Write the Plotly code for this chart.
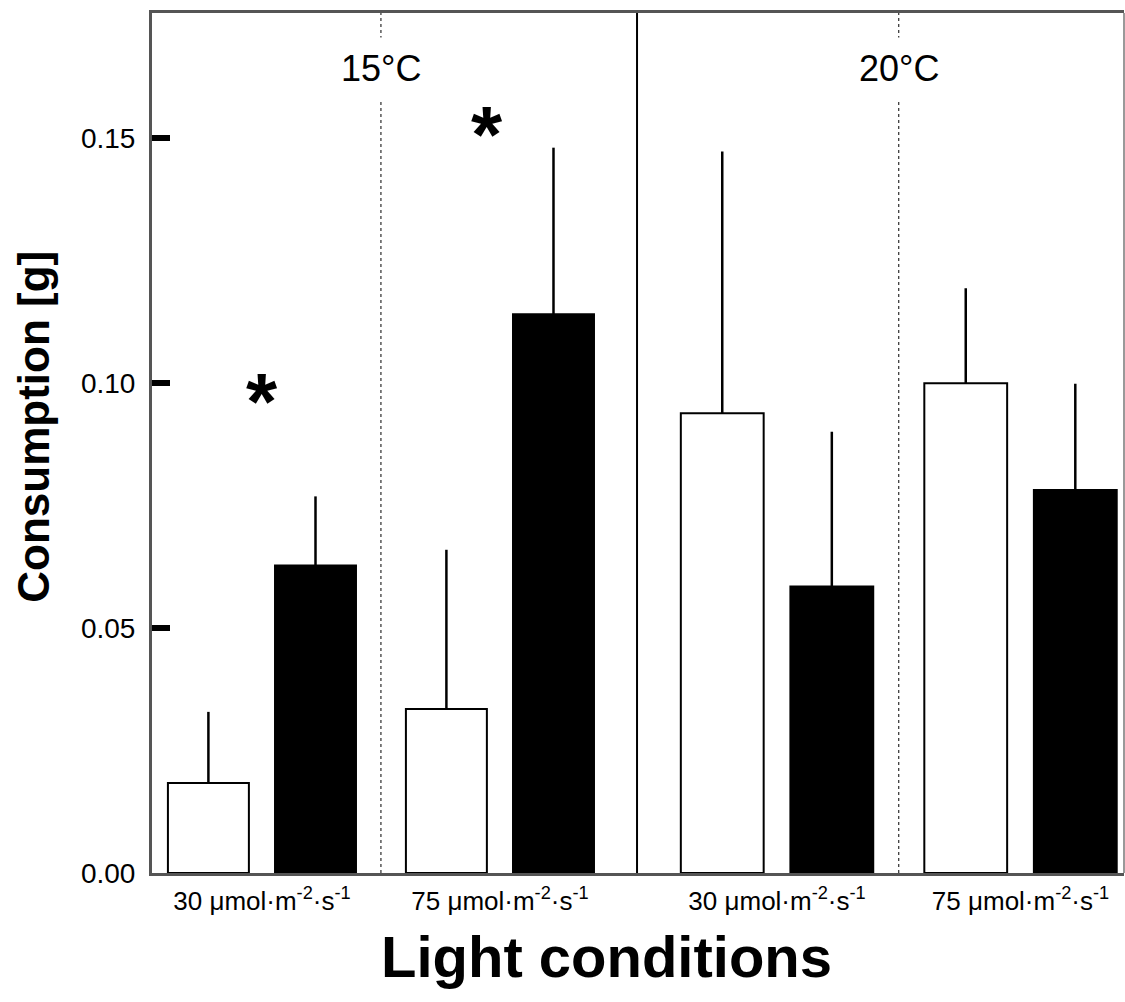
import plotly.graph_objects as go
from plotly.subplots import make_subplots

# ---- data ----
light_levels = ["30 μmol·m<sup>-2</sup>·s<sup>-1</sup>", "75 μmol·m<sup>-2</sup>·s<sup>-1</sup>"]
temperatures = ["15°C", "20°C"]

open_15 = [0.0184, 0.0335]
open_15_err = [0.0145, 0.0325]
filled_15 = [0.0628, 0.1141]
filled_15_err = [0.0141, 0.0340]

open_20 = [0.0939, 0.1000]
open_20_err = [0.0534, 0.0194]
filled_20 = [0.0585, 0.0782]
filled_20_err = [0.0316, 0.0217]

y_ticks = [0.00, 0.05, 0.10, 0.15]
# significance markers: (panel, category, y)
stars = [(1, 0, 0.0962), (1, 1, 0.1507)]

FONT = "Arial, 'Liberation Sans', sans-serif"

fig = make_subplots(rows=1, cols=2, shared_yaxes=True, horizontal_spacing=0,
                    column_widths=[0.499, 0.501])

panels = [(open_15, open_15_err, filled_15, filled_15_err),
          (open_20, open_20_err, filled_20, filled_20_err)]

for col, (o, oe, f, fe) in enumerate(panels, start=1):
    fig.add_trace(go.Bar(
        x=light_levels, y=o, name="open",
        marker=dict(color="white", line=dict(color="black", width=2)),
        error_y=dict(type="data", array=oe, arrayminus=[0] * len(oe), symmetric=False,
                     width=0, thickness=2.5, color="black"),
        showlegend=False), row=1, col=col)
    fig.add_trace(go.Bar(
        x=light_levels, y=f, name="filled",
        marker=dict(color="black", line=dict(color="black", width=2)),
        error_y=dict(type="data", array=fe, arrayminus=[0] * len(fe), symmetric=False,
                     width=0, thickness=2.5, color="black"),
        showlegend=False), row=1, col=col)

fig.update_layout(
    width=1125, height=1002,
    margin=dict(l=152, r=1, t=13, b=129),
    paper_bgcolor="white", plot_bgcolor="white",
    barmode="group", bargap=0.1, bargroupgap=0.244,
    font=dict(family=FONT, color="black"),
)

axis_common = dict(type="category", showline=True, linecolor="#555555", linewidth=3,
                   mirror=True, ticks="", showgrid=False, zeroline=False,
                   ticklabelstandoff=3,
                   tickfont=dict(size=26, family=FONT, color="black"))
fig.update_xaxes(range=[-0.462, 1.576], **axis_common, row=1, col=1)
fig.update_xaxes(range=[-0.575, 1.425], **axis_common, row=1, col=2)

fig.update_yaxes(range=[0, 0.1756], tickvals=y_ticks, tickformat=".2f",
                 showline=True, linecolor="#555555", linewidth=3,
                 ticks="inside", ticklen=18, tickwidth=6, tickcolor="black",
                 ticklabelstandoff=8,
                 showgrid=False, zeroline=False,
                 tickfont=dict(size=28, family=FONT, color="black"),
                 row=1, col=1)
fig.update_yaxes(range=[0, 0.1756], showline=False, showticklabels=False, ticks="",
                 showgrid=False, zeroline=False, row=1, col=2)

# dotted separators between light levels (with label gap), solid separator between temps
for xref, yref in [("x", "y"), ("x2", "y2")]:
    fig.add_shape(type="line", xref=xref, yref=yref, x0=0.5, x1=0.5, y0=0, y1=0.1756,
                  line=dict(color="black", width=1, dash="dot"), layer="below")
fig.add_shape(type="line", xref="paper", yref="paper", x0=0.499, x1=0.499, y0=0, y1=1,
              line=dict(color="black", width=2))
fig.add_shape(type="line", xref="paper", yref="paper", x0=1, x1=1, y0=0, y1=1,
              line=dict(color="#777777", width=1.5))

# temperature labels
for xref, t in zip(["x", "x2"], temperatures):
    fig.add_annotation(x=0.5, xref=xref, y=0.9355, yref="paper", text=t, showarrow=False,
                       font=dict(size=36, family=FONT, color="black"),
                       bgcolor="white", borderpad=10, xanchor="center", yanchor="middle")

# asterisks
for panel, cat, yv in stars:
    fig.add_annotation(x=light_levels[cat], xref="x" if panel == 1 else "x2",
                       y=yv, yref="y" if panel == 1 else "y2",
                       text="<b>*</b>", showarrow=False,
                       xshift=0 if cat == 0 else -13,
                       font=dict(size=80, family=FONT, color="black"))

# axis titles
fig.add_annotation(x=-0.1214, xref="paper", y=0.519, yref="paper",
                   text="<b>Consumption [g]</b>", textangle=-90, showarrow=False,
                   font=dict(size=44, family=FONT, color="black"),
                   xanchor="center", yanchor="middle")
fig.add_annotation(x=0.468, xref="paper", y=-0.0973, yref="paper",
                   text="<b>Light conditions</b>", showarrow=False,
                   font=dict(size=58, family=FONT, color="black"),
                   xanchor="center", yanchor="middle")

fig.write_html("out.html")
